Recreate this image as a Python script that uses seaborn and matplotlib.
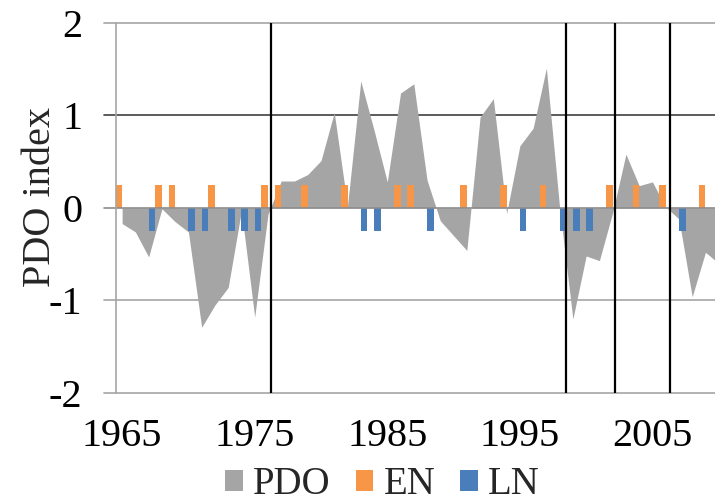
import matplotlib
matplotlib.use("Agg")
import matplotlib.pyplot as plt
from matplotlib.patches import Patch
import seaborn as sns
import pandas as pd

# Annual PDO index, 1965-2010
years = list(range(1965, 2011))
pdo = [-0.17, -0.26, -0.53, -0.01, -0.15, -0.26, -1.29, -1.05, -0.86, -0.03,
       -1.18, -0.07, 0.29, 0.29, 0.36, 0.51, 1.03, 0.02, 1.37, 0.84,
       0.28, 1.24, 1.34, 0.30, -0.14, -0.30, -0.46, 0.98, 1.18, -0.06,
       0.67, 0.86, 1.51, 0.00, -1.20, -0.52, -0.57, -0.05, 0.58, 0.24,
       0.28, 0.01, -0.12, -0.96, -0.48, -0.60]

# El Nino / La Nina years, flagged with short bars of fixed height
en_years = [1965, 1968, 1969, 1972, 1976, 1977, 1979, 1982, 1986, 1987,
            1991, 1994, 1997, 2002, 2004, 2006, 2009]
ln_years = [1967, 1970, 1971, 1973, 1974, 1975, 1983, 1984, 1988, 1995,
            1998, 1999, 2000, 2007]
en_value = 0.25
ln_value = -0.25

# Regime-shift markers (fractional years)
shift_years = [1976.2, 1998.45, 2002.15, 2006.3]

tick_years = [1965, 1975, 1985, 1995, 2005]
y_ticks = [2, 1, 0, -1, -2]
y_ticklabels = ["2", "1", "0", "-1", "-2"]

c_pdo = "#a5a5a5"
c_en = "#f79646"
c_ln = "#4a7ebb"

sns.set_theme(style="white")
plt.rcParams["font.family"] = ["Liberation Serif", "DejaVu Serif"]
fs = 29

fig = plt.figure(figsize=(7.15, 5.04), dpi=100)
left = 115.5 / 715
bottom = 1 - 393 / 504
top = 1 - 22.7 / 504
ax = fig.add_axes([left, bottom, 1 - left, top - bottom])

pos = [y - years[0] for y in years]

# PDO area
ax.fill_between(pos, pdo, 0, color=c_pdo, linewidth=0, zorder=2)

# ENSO bars through seaborn (dodged: EN left half, LN right half of each year)
df = pd.DataFrame({
    "year": en_years + ln_years,
    "value": [en_value] * len(en_years) + [ln_value] * len(ln_years),
    "kind": ["EN"] * len(en_years) + ["LN"] * len(ln_years),
})
sns.barplot(data=df, x="year", y="value", hue="kind", order=years,
            hue_order=["EN", "LN"], palette={"EN": c_en, "LN": c_ln},
            saturation=1, width=1.0, dodge=True, legend=False, ax=ax,
            zorder=3, linewidth=0, errorbar=None)

# Horizontal gridlines, extended left past the axis like outside ticks
for v in y_ticks:
    col = "#404040" if v == 1 else "#a6a6a6"
    if v == 0:
        col = "#8c8c8c"
    ax.axhline(v, color=col, lw=1.2, zorder=4 if v == 0 else 1,
               xmin=-12 / 599.5, clip_on=False)

# Regime shift lines
for s in shift_years:
    ax.axvline(s - years[0], color="black", lw=1.6, zorder=5)

ax.set_xlim(-0.5, 44.72)
ax.set_ylim(-2, 2)
ax.set_yticks(y_ticks)
ax.set_yticklabels(y_ticklabels, fontsize=fs)
ax.set_xticks([y - years[0] for y in tick_years])
ax.set_xticklabels([str(y) for y in tick_years], fontsize=fs)
ax.tick_params(axis="y", length=0, pad=24, colors="black")
ax.tick_params(axis="x", length=0, pad=18, colors="black")
ax.set_xlabel("")
ax.set_ylabel("")

fig.text(50 / 715, 1 - 197 / 504, "PDO index", fontsize=fs, rotation=90,
         rotation_mode="anchor", ha="center", va="baseline")

for name in ["top", "right", "bottom"]:
    ax.spines[name].set_visible(False)
ax.spines["left"].set_color("#a6a6a6")
ax.spines["left"].set_linewidth(1.2)
ax.spines["left"].set_zorder(6)

handles = [Patch(facecolor=c_pdo, edgecolor="none", label="PDO"),
           Patch(facecolor=c_en, edgecolor="none", label="EN"),
           Patch(facecolor=c_ln, edgecolor="none", label="LN")]
fig.legend(handles=handles, loc="center", bbox_to_anchor=(382.5 / 715, 1 - 485 / 504),
           ncol=3, frameon=False, fontsize=28, handlelength=0.46, handleheight=0.46,
           handletextpad=0.26, columnspacing=0.64, borderaxespad=0)

fig.savefig("out.png", dpi=100)
